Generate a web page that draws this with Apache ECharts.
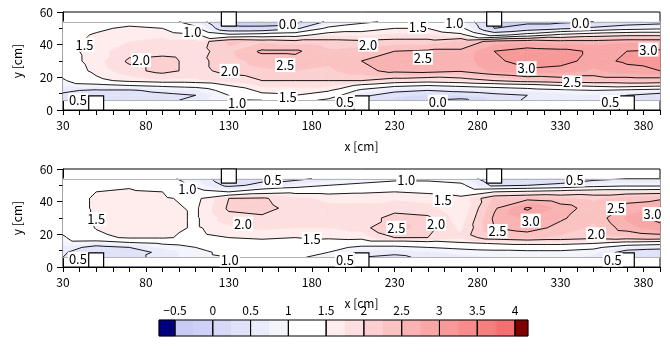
<!DOCTYPE html>
<html>
<head>
<meta charset="utf-8">
<script src="https://cdn.jsdelivr.net/npm/echarts@6/dist/echarts.min.js"></script>
<style>
  html, body { margin: 0; padding: 0; background: #fff; }
  #chart { width: 670px; height: 358px; }
</style>
</head>
<body>
<div id="chart"></div>
<script>
// measurement grid
const xCols = [30, 50, 70, 90, 110, 130, 150, 170, 190, 210, 230, 250, 270, 290, 310, 330, 350, 370, 390];
const yRows = [6, 9, 12, 15, 18, 24, 30, 36, 42, 46, 50, 54];

// one list per x column, values from bottom (y=6) to top (y=54)
const upperField = [
  [0.5, 0.45, 0.55, 0.75, 0.95, 1.2, 1.3, 1.35, 1.35, 1.3, 1.2, 1.1],
  [0.45, 0.35, 0.45, 0.85, 1.4, 1.6, 1.65, 1.65, 1.6, 1.55, 1.4, 1.15],
  [0.4, 0.3, 0.45, 1.0, 1.6, 1.9, 2.05, 1.9, 1.75, 1.7, 1.6, 1.3],
  [0.4, 0.4, 0.6, 1.1, 1.7, 2.1, 2.1, 1.9, 1.8, 1.7, 1.5, 1.2],
  [0.6, 0.5, 0.7, 1.2, 1.7, 1.9, 1.9, 1.85, 1.8, 1.55, 1.1, 0.8],
  [0.95, 1.0, 1.2, 1.5, 1.8, 2.1, 2.15, 2.2, 2.3, 1.1, 0.1, -0.1],
  [1.0, 1.4, 1.6, 1.8, 2.0, 2.2, 2.35, 2.55, 2.2, 1.2, 0.1, -0.2],
  [1.2, 1.5, 1.65, 1.8, 2.0, 2.25, 2.4, 2.55, 2.1, 1.3, 0.4, -0.15],
  [0.9, 1.25, 1.55, 1.8, 2.0, 2.2, 2.3, 2.3, 2.1, 1.7, 1.1, 0.6],
  [0.4, 0.6, 0.9, 1.4, 2.0, 2.4, 2.5, 2.4, 2.05, 1.7, 1.3, 0.9],
  [0.2, 0.3, 0.6, 1.1, 1.8, 2.6, 2.7, 2.5, 2.1, 1.8, 1.5, 1.1],
  [0.0, 0.2, 0.5, 1.0, 1.7, 2.65, 2.7, 2.55, 2.1, 1.8, 1.5, 1.2],
  [-0.1, 0.25, 0.6, 1.1, 1.8, 2.55, 2.6, 2.55, 2.3, 1.6, 1.1, 0.9],
  [0.3, 0.4, 0.7, 1.2, 2.0, 2.8, 2.95, 3.0, 2.6, 0.8, 0.0, -0.1],
  [0.55, 0.5, 0.8, 1.3, 2.2, 2.95, 3.1, 3.15, 2.7, 1.2, 0.2, -0.1],
  [0.7, 0.65, 0.9, 1.5, 2.3, 2.9, 3.1, 3.1, 2.6, 1.6, 0.4, -0.1],
  [0.6, 0.7, 1.0, 1.6, 2.3, 2.7, 2.9, 2.95, 2.6, 1.8, 0.6, 0.0],
  [0.45, 0.5, 0.9, 1.7, 2.3, 2.9, 3.05, 3.0, 2.7, 1.9, 0.8, 0.2],
  [0.3, 0.3, 0.8, 1.6, 2.3, 3.0, 3.1, 3.05, 2.7, 1.9, 0.9, 0.3]
];

const lowerField = [
  [0.5, 0.55, 0.7, 0.85, 0.95, 1.15, 1.25, 1.3, 1.3, 1.3, 1.25, 1.2],
  [0.3, 0.2, 0.35, 0.8, 1.4, 1.52, 1.55, 1.55, 1.55, 1.5, 1.35, 1.25],
  [0.4, 0.3, 0.5, 1.0, 1.55, 1.7, 1.7, 1.65, 1.6, 1.55, 1.45, 1.3],
  [0.6, 0.6, 0.8, 1.1, 1.55, 1.65, 1.65, 1.6, 1.55, 1.5, 1.3, 1.15],
  [0.9, 0.9, 1.0, 1.2, 1.4, 1.45, 1.45, 1.45, 1.4, 1.2, 0.9, 0.8],
  [1.0, 1.1, 1.2, 1.35, 1.5, 1.7, 1.9, 2.05, 2.0, 1.0, 0.4, 0.2],
  [1.1, 1.2, 1.3, 1.4, 1.55, 1.8, 1.95, 2.1, 2.05, 1.3, 0.6, 0.4],
  [1.05, 1.15, 1.25, 1.4, 1.5, 1.75, 1.95, 1.9, 1.8, 1.4, 0.8, 0.4],
  [0.9, 1.0, 1.15, 1.35, 1.55, 1.75, 1.8, 1.8, 1.7, 1.4, 1.0, 0.6],
  [0.5, 0.6, 0.9, 1.3, 1.6, 1.85, 1.85, 1.8, 1.7, 1.45, 1.1, 0.8],
  [0.4, 0.6, 0.9, 1.3, 2.0, 2.4, 2.1, 1.9, 1.7, 1.5, 1.2, 0.9],
  [0.6, 0.7, 1.0, 1.4, 2.0, 2.1, 2.05, 1.85, 1.65, 1.45, 1.2, 0.9],
  [0.7, 0.8, 1.1, 1.5, 1.8, 1.7, 1.6, 1.5, 1.55, 1.4, 1.1, 0.8],
  [0.75, 0.85, 1.2, 1.6, 2.2, 2.5, 2.55, 2.45, 2.3, 1.5, 0.4, 0.2],
  [0.8, 0.9, 1.2, 1.7, 2.3, 2.65, 2.8, 3.05, 2.4, 1.6, 0.5, 0.2],
  [0.8, 0.9, 1.2, 1.7, 2.2, 2.4, 2.55, 2.65, 2.3, 1.7, 0.6, 0.25],
  [0.7, 0.8, 1.1, 1.6, 2.1, 2.2, 2.3, 2.35, 2.2, 1.8, 0.8, 0.4],
  [0.4, 0.35, 0.7, 1.4, 2.2, 2.65, 2.8, 2.6, 2.4, 1.8, 0.9, 0.5],
  [0.3, 0.3, 0.6, 1.3, 2.3, 2.9, 3.1, 2.8, 2.45, 1.85, 0.9, 0.5]
];

// colour bands and contour lines
const fillLevels = [-0.5, -0.25, 0, 0.25, 0.5, 0.75, 1, 1.25, 1.5, 1.75, 2, 2.25, 2.5, 2.75, 3, 3.25, 3.5, 3.75, 4];
const fillColors = ['#00007f', '#c8ccf4', '#cdd1f5', '#d6d9f7', '#e0e2f9', '#eaebfb', '#f4f4fd',
  '#ffffff', '#ffffff', '#ffeded', '#fddfdf', '#fcd0d0', '#fbc2c2', '#f9b3b3', '#f8a6a6',
  '#f79999', '#f68c8c', '#f57e7e', '#f47070', '#800000'];
const lineLevels = [-0.5, 0, 0.5, 1, 1.5, 2, 2.5, 3, 3.5];

const xTickLabels = [30, 80, 130, 180, 230, 280, 330, 380];
const xTickMarks = [30, 40, 50, 60, 70, 80, 90, 100, 110, 120, 130, 140, 150, 160, 170, 180, 190, 200,
  210, 220, 230, 240, 250, 260, 270, 280, 290, 300, 310, 320, 330, 340, 350, 360, 370, 380, 390];
const cbTicks = [-0.5, 0, 0.5, 1, 1.5, 2, 2.5, 3, 3.5, 4];

// probes
const squareX = [50, 130, 210, 290, 370];
const squareAtTop = [false, true, false, true, false];

// contour labels [x, y, text]
const upperLabels = [
  [43, 40, '1.5'], [77, 30.5, '2.0'], [108, 47.6, '1.0'], [165.5, 52.5, '0.0'], [130.5, 24, '2.0'],
  [164, 27.5, '2.5'], [165.5, 8, '1.5'], [135, 4.5, '1.0'], [39, 6, '0.5'], [214, 40, '2.0'],
  [244, 51, '1.5'], [266, 53, '1.0'], [247, 32, '2.5'], [342, 53, '0.0'], [309.5, 25.6, '3.0'],
  [337, 17, '2.5'], [383, 37, '3.0'], [200, 5, '0.5'], [256, 5, '0.0'], [360, 5, '0.5']
];
const lowerLabels = [
  [105, 47.5, '1.0'], [156.5, 53, '0.5'], [50, 29.4, '1.5'], [138.5, 26.5, '2.0'], [180, 17, '1.5'],
  [39, 5, '0.5'], [130.5, 4.5, '1.0'], [237, 53, '1.0'], [338.6, 53.5, '0.5'], [259, 41, '1.5'],
  [231, 24, '2.5'], [255, 26.5, '2.0'], [292, 22, '2.5'], [312, 28.4, '3.0'], [351.5, 20, '2.0'],
  [363.5, 36, '2.5'], [385.5, 32.4, '3.0'], [200, 4.5, '0.5'], [361.5, 4.5, '0.5']
];

const FONT = '"Noto Sans CJK JP", "Liberation Sans", sans-serif';

const cells = [];
for (let i = 0; i < xCols.length - 1; i++) {
  for (let j = 0; j < yRows.length - 1; j++) cells.push([i, j]);
}

function triangles(api, field, i, j) {
  const pt = (a, b) => {
    const p = api.coord([xCols[a], yRows[b]]);
    return [p[0], p[1], field[a][b]];
  };
  const a = pt(i, j), b = pt(i + 1, j), c = pt(i + 1, j + 1), d = pt(i, j + 1);
  return [[a, b, c], [a, c, d]];
}

function clipPoly(poly, level, above) {
  const out = [];
  for (let k = 0; k < poly.length; k++) {
    const p = poly[k], q = poly[(k + 1) % poly.length];
    const pin = above ? p[2] >= level : p[2] <= level;
    const qin = above ? q[2] >= level : q[2] <= level;
    if (pin) out.push(p);
    if (pin !== qin) {
      const t = (level - p[2]) / (q[2] - p[2]);
      out.push([p[0] + t * (q[0] - p[0]), p[1] + t * (q[1] - p[1]), level]);
    }
  }
  return out;
}

function fillSeries(field, idx) {
  return {
    type: 'custom', xAxisIndex: idx, yAxisIndex: idx, data: cells, z: 1, silent: true,
    renderItem: (params, api) => {
      const children = [];
      triangles(api, field, api.value(0), api.value(1)).forEach(tri => {
        for (let b = 0; b < fillColors.length; b++) {
          let poly = tri;
          if (b > 0) poly = clipPoly(poly, fillLevels[b - 1], true);
          if (b < fillLevels.length && poly.length >= 3) poly = clipPoly(poly, fillLevels[b], false);
          if (poly.length >= 3) {
            children.push({
              type: 'polygon',
              shape: { points: poly.map(p => [p[0], p[1]]) },
              style: { fill: fillColors[b], stroke: fillColors[b], lineWidth: 0.6 }
            });
          }
        }
      });
      return { type: 'group', children };
    }
  };
}

function lineSeries(field, idx) {
  return {
    type: 'custom', xAxisIndex: idx, yAxisIndex: idx, data: cells, z: 3, silent: true,
    renderItem: (params, api) => {
      const children = [];
      triangles(api, field, api.value(0), api.value(1)).forEach(tri => {
        lineLevels.forEach(L0 => {
          const L = L0 + 1e-6;
          const pts = [];
          for (let k = 0; k < 3; k++) {
            const p = tri[k], q = tri[(k + 1) % 3];
            if ((p[2] - L) * (q[2] - L) < 0) {
              const t = (L - p[2]) / (q[2] - p[2]);
              pts.push([p[0] + t * (q[0] - p[0]), p[1] + t * (q[1] - p[1])]);
            }
          }
          if (pts.length === 2) {
            children.push({
              type: 'line',
              shape: { x1: pts[0][0], y1: pts[0][1], x2: pts[1][0], y2: pts[1][1] },
              style: { stroke: '#000', lineWidth: 0.9 }
            });
          }
        });
      });
      return { type: 'group', children };
    }
  };
}

function wallSeries(idx) {
  return {
    type: 'line', xAxisIndex: idx, yAxisIndex: idx, data: [], z: 2,
    markLine: {
      silent: true, symbol: 'none', label: { show: false },
      lineStyle: { color: '#b4b4b4', type: 'solid', width: 1 },
      data: [{ yAxis: yRows[0] }, { yAxis: yRows[yRows.length - 1] }]
    }
  };
}

function squareSeries(idx) {
  return {
    type: 'custom', xAxisIndex: idx, yAxisIndex: idx, z: 5, silent: true,
    data: squareX.map((x, k) => [x, squareAtTop[k] ? 1 : 0]),
    renderItem: (params, api) => {
      const x = api.value(0), top = api.value(1) === 1;
      const p1 = api.coord([x - 4.5, top ? 60 : 8.7]);
      const p2 = api.coord([x + 4.5, top ? 51.3 : 0]);
      return {
        type: 'rect',
        shape: { x: p1[0], y: p1[1], width: p2[0] - p1[0], height: p2[1] - p1[1] },
        style: { fill: '#fff', stroke: '#000', lineWidth: 1.2 }
      };
    }
  };
}

function labelSeries(labels, idx) {
  return {
    type: 'custom', xAxisIndex: idx, yAxisIndex: idx, z: 6, silent: true,
    data: labels.map(l => [l[0], l[1]]),
    renderItem: (params, api) => {
      const p = api.coord([api.value(0), api.value(1)]);
      return {
        type: 'text', x: p[0], y: p[1],
        style: {
          text: labels[params.dataIndex][2], fill: '#000', font: '13px ' + FONT,
          align: 'center', verticalAlign: 'middle',
          backgroundColor: '#fff', padding: [1, 1, 0, 1]
        }
      };
    }
  };
}

function panelX(idx) {
  return {
    gridIndex: idx, type: 'value', min: 30, max: 390,
    name: 'x [cm]', nameLocation: 'middle', nameGap: 30,
    nameTextStyle: { color: '#000', fontSize: 12, fontFamily: FONT },
    axisLine: { lineStyle: { color: '#000' } },
    axisTick: { customValues: xTickMarks, length: 5, lineStyle: { color: '#000' } },
    axisLabel: { customValues: xTickLabels, color: '#000', fontSize: 12, fontFamily: FONT, margin: 9 },
    splitLine: { show: false }
  };
}

function panelY(idx) {
  return {
    gridIndex: idx, type: 'value', min: 0, max: 60, interval: 20,
    name: 'y [cm]', nameLocation: 'middle', nameGap: 40,
    nameTextStyle: { color: '#000', fontSize: 12, fontFamily: FONT },
    axisLine: { lineStyle: { color: '#000' } },
    axisTick: { length: 6, lineStyle: { color: '#000' } },
    minorTick: { show: true, splitNumber: 2, length: 4, lineStyle: { color: '#000' } },
    axisLabel: { color: '#000', fontSize: 12, fontFamily: FONT, margin: 10 },
    splitLine: { show: false }
  };
}

// colour bar pieces
const cbMin = -0.712, cbMax = 4.172;
const cbPieces = fillColors.map((c, k) => [k === 0 ? cbMin : fillLevels[k - 1], k === fillLevels.length ? cbMax : fillLevels[k]]);
const cbBoxes = [[cbMin, -0.5]];
for (let k = 0; k < cbTicks.length - 1; k++) cbBoxes.push([cbTicks[k], cbTicks[k + 1]]);
cbBoxes.push([4, cbMax]);

const chart = echarts.init(document.getElementById('chart'));
chart.setOption({
  animation: false,
  grid: [
    { left: 63, right: 10, top: 12, height: 98, show: true, borderColor: '#000', borderWidth: 1 },
    { left: 63, right: 10, top: 169, height: 98, show: true, borderColor: '#000', borderWidth: 1 },
    { left: 159, width: 369, top: 320, height: 16 }
  ],
  xAxis: [
    panelX(0), panelX(1),
    {
      gridIndex: 2, type: 'value', min: cbMin, max: cbMax, position: 'top',
      axisLine: { show: false }, axisTick: { show: false }, splitLine: { show: false },
      axisLabel: {
        customValues: cbTicks, color: '#000', fontSize: 12, fontFamily: FONT, margin: 4,
        formatter: v => (v < 0 ? '\u2212' + Math.abs(v) : String(v))
      }
    }
  ],
  yAxis: [
    panelY(0), panelY(1),
    { gridIndex: 2, type: 'value', min: 0, max: 1, show: false }
  ],
  series: [
    fillSeries(upperField, 0), wallSeries(0), lineSeries(upperField, 0), squareSeries(0), labelSeries(upperLabels, 0),
    fillSeries(lowerField, 1), wallSeries(1), lineSeries(lowerField, 1), squareSeries(1), labelSeries(lowerLabels, 1),
    {
      type: 'custom', xAxisIndex: 2, yAxisIndex: 2, data: cbPieces, silent: true, z: 1,
      renderItem: (params, api) => {
        const p1 = api.coord([api.value(0), 1]);
        const p2 = api.coord([api.value(1), 0]);
        return {
          type: 'rect',
          shape: { x: p1[0], y: p1[1], width: p2[0] - p1[0], height: p2[1] - p1[1] },
          style: { fill: fillColors[params.dataIndex], stroke: fillColors[params.dataIndex], lineWidth: 0.5 }
        };
      }
    },
    {
      type: 'custom', xAxisIndex: 2, yAxisIndex: 2, data: cbBoxes, silent: true, z: 2,
      renderItem: (params, api) => {
        const p1 = api.coord([api.value(0), 1]);
        const p2 = api.coord([api.value(1), 0]);
        return {
          type: 'rect',
          shape: { x: p1[0], y: p1[1], width: p2[0] - p1[0], height: p2[1] - p1[1] },
          style: { fill: 'none', stroke: '#000', lineWidth: 1 }
        };
      }
    }
  ]
});
</script>
</body>
</html>
